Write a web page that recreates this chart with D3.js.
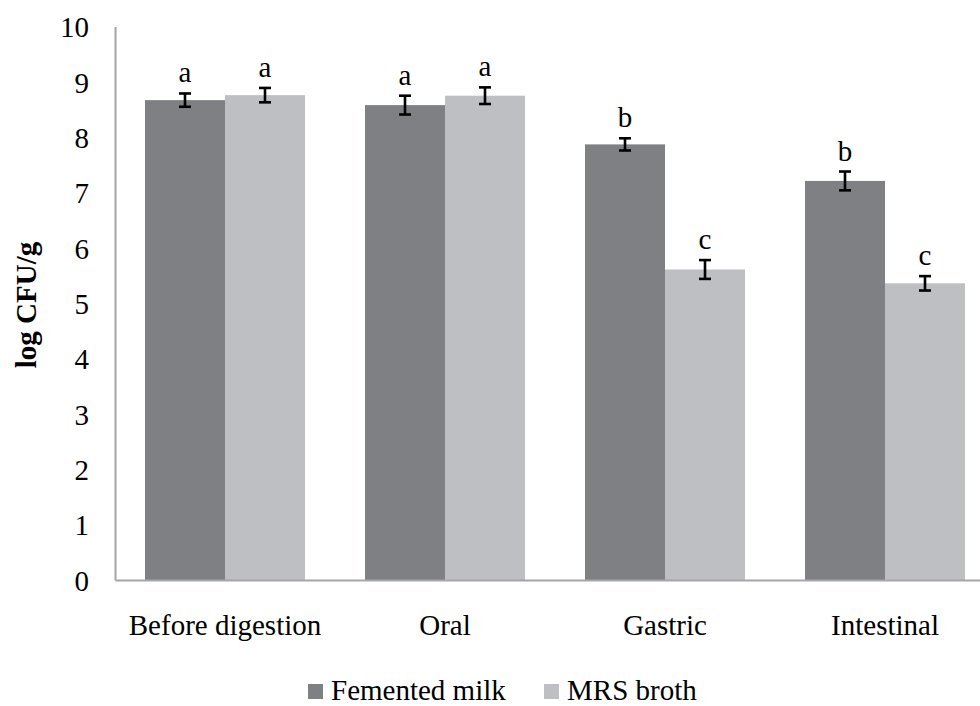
<!DOCTYPE html>
<html>
<head>
<meta charset="utf-8">
<script src="https://cdn.jsdelivr.net/npm/d3@7"></script>
<style>
  html, body { margin: 0; padding: 0; background: #fff; }
  svg { display: block; }
  text { font-family: "Liberation Serif", "Times New Roman", serif; fill: #000; }
</style>
</head>
<body>
<svg id="chart" width="980" height="706"></svg>
<script>
// Viable counts through the digestion stages
const categories = ["Before digestion", "Oral", "Gastric", "Intestinal"];
const seriesNames = ["Femented milk", "MRS broth"];
const fermentedMilk = [8.67, 8.58, 7.87, 7.21];
const mrsBroth = [8.76, 8.75, 5.61, 5.36];
const fermentedErr = [0.12, 0.17, 0.11, 0.17];
const mrsErr = [0.13, 0.15, 0.17, 0.13];
const fermentedLetters = ["a", "a", "b", "b"];
const mrsLetters = ["a", "a", "c", "c"];
const yTicks = [0, 1, 2, 3, 4, 5, 6, 7, 8, 9, 10];

const colors = ["#7f8084", "#bebfc2"];
const fontSize = 29;
const serif = "'Liberation Serif', 'Times New Roman', serif";
const svg = d3.select("#chart");

const plot = { left: 115, right: 995, top: 26.5, bottom: 580 };

const x0 = d3.scaleBand().domain(categories).range([plot.left, plot.right]).padding(0);
const x1 = d3.scaleBand().domain(seriesNames).range([30, 190]).padding(0);
const y = d3.scaleLinear().domain([0, 10]).range([plot.bottom, plot.top]);

const rows = categories.map((c, i) => ({
  category: c,
  bars: [
    { name: seriesNames[0], value: fermentedMilk[i], err: fermentedErr[i], letter: fermentedLetters[i], color: colors[0] },
    { name: seriesNames[1], value: mrsBroth[i], err: mrsErr[i], letter: mrsLetters[i], color: colors[1] }
  ]
}));

// Value axis: gray line, no tick marks
const yAxis = svg.append("g")
  .attr("transform", `translate(${plot.left},0)`)
  .call(d3.axisLeft(y).tickValues(yTicks).tickSize(0).tickPadding(26).tickFormat(d3.format("d")));
yAxis.select(".domain").attr("stroke", "#a6a6a6").attr("stroke-width", 2);
yAxis.selectAll("text").attr("font-size", fontSize).style("font-family", serif).attr("dy", "0.35em");

const groups = svg.append("g").selectAll("g")
  .data(rows).join("g")
  .attr("transform", d => `translate(${x0(d.category)},0)`);

groups.selectAll("rect")
  .data(d => d.bars).join("rect")
  .attr("x", d => x1(d.name))
  .attr("width", x1.bandwidth())
  .attr("y", d => y(d.value))
  .attr("height", d => y(0) - y(d.value))
  .attr("fill", d => d.color);

// Error bars
const eb = groups.selectAll("g.err")
  .data(d => d.bars).join("g").attr("class", "err")
  .attr("transform", d => `translate(${x1(d.name) + x1.bandwidth() / 2},0)`)
  .attr("stroke", "#000").attr("stroke-width", 2.6);
eb.append("line").attr("x1", 0).attr("x2", 0)
  .attr("y1", d => y(d.value + d.err)).attr("y2", d => y(d.value - d.err));
eb.append("line").attr("x1", -6).attr("x2", 6)
  .attr("y1", d => y(d.value + d.err)).attr("y2", d => y(d.value + d.err));
eb.append("line").attr("x1", -6).attr("x2", 6)
  .attr("y1", d => y(d.value - d.err)).attr("y2", d => y(d.value - d.err));

// Significance letters
groups.selectAll("text.sig")
  .data(d => d.bars).join("text").attr("class", "sig")
  .attr("x", d => x1(d.name) + x1.bandwidth() / 2)
  .attr("y", d => y(d.value + d.err) - 11)
  .attr("text-anchor", "middle")
  .attr("font-size", fontSize)
  .text(d => d.letter);

// Category axis line and labels
const xAxis = svg.append("g")
  .attr("transform", `translate(0,${plot.bottom})`)
  .call(d3.axisBottom(x0).tickSize(0).tickPadding(34));
xAxis.select(".domain").attr("stroke", "#a6a6a6").attr("stroke-width", 2);
xAxis.selectAll("text").attr("font-size", fontSize).style("font-family", serif);

// Value axis title
svg.append("text")
  .attr("transform", "translate(36,305) rotate(-90)")
  .attr("text-anchor", "middle")
  .attr("font-size", fontSize)
  .attr("font-weight", "bold")
  .text("log CFU/g");

// Legend
const legendItems = [
  { name: seriesNames[0], color: colors[0], x: 308 },
  { name: seriesNames[1], color: colors[1], x: 544 }
];
const legend = svg.append("g").selectAll("g").data(legendItems).join("g")
  .attr("transform", d => `translate(${d.x},684)`);
legend.append("rect").attr("width", 15).attr("height", 15).attr("fill", d => d.color);
legend.append("text").attr("x", 23).attr("y", 15.5).attr("font-size", fontSize).text(d => d.name);
</script>
</body>
</html>
